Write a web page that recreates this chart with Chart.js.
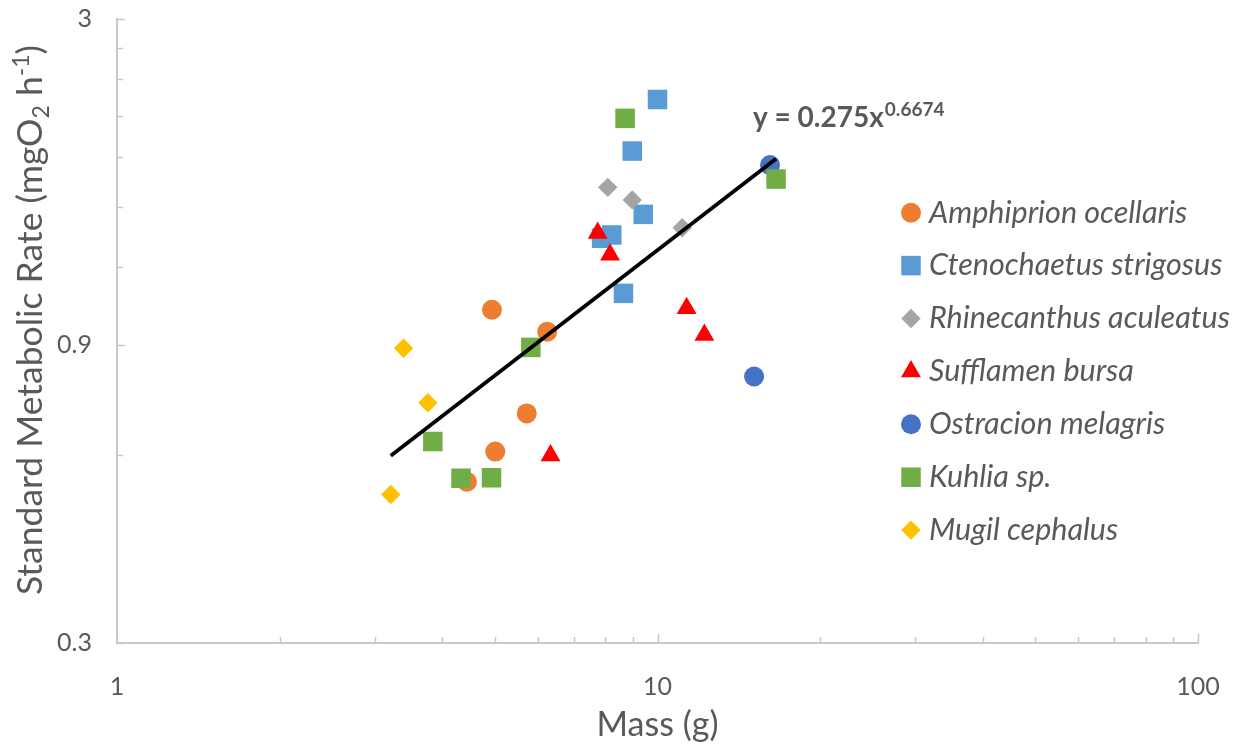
<!DOCTYPE html>
<html>
<head>
<meta charset="utf-8">
<title>Standard metabolic rate vs mass</title>
<script src="https://cdn.jsdelivr.net/npm/chart.js@4"></script>
<style>
  html, body { margin: 0; padding: 0; background: #ffffff; }
  #wrap { width: 1247px; height: 749px; }
</style>
</head>
<body>
<div id="wrap"><canvas id="c" width="1247" height="749"></canvas></div>
<script>
// Body mass (g) and standard metabolic rate (mgO2 h-1) for each species
const amphMass = [4.94, 6.25, 5.73, 5.01, 4.44];
const amphRate = [1.026, 0.946, 0.700, 0.608, 0.544];

const ctenMass = [10.0, 8.98, 9.41, 8.23, 7.88, 8.65];
const ctenRate = [2.229, 1.843, 1.459, 1.352, 1.336, 1.090];

const rhinMass = [8.09, 8.98, 11.11];
const rhinRate = [1.612, 1.539, 1.389];

const suffMass = [7.75, 8.17, 11.32, 12.21, 6.34];
const suffRate = [1.362, 1.257, 1.032, 0.935, 0.599];

const ostrMass = [16.15, 15.09];
const ostrRate = [1.750, 0.802];

const kuhlMass = [8.71, 16.57, 5.83, 3.84, 4.33, 4.93];
const kuhlRate = [2.079, 1.662, 0.893, 0.631, 0.551, 0.552];

const mugiMass = [3.39, 3.76, 3.21];
const mugiRate = [0.890, 0.728, 0.519];

const speciesNames = [
  'Amphiprion ocellaris',
  'Ctenochaetus strigosus',
  'Rhinecanthus aculeatus',
  'Sufflamen bursa',
  'Ostracion melagris',
  'Kuhlia sp.',
  'Mugil cephalus'
];

// Power-law fit y = a * x^b
const fitCoef = 0.275;
const fitExp = 0.6674;

// Axis ticks
const xMajorTicks = [1, 10, 100];
const xTickLabels = ['1', '10', '100'];
const xMinorTicks = [2, 3, 4, 5, 6, 7, 8, 9, 20, 30, 40, 50, 60, 70, 80, 90];
const yMajorTicks = [0.3, 0.9, 3];
const yTickLabels = ['0.3', '0.9', '3'];
const yMinorTicks = [0.6, 1.2, 1.5, 1.8, 2.1, 2.4, 2.7];

const TEXT = '#595959';
const AXIS = '#c9c9c9';
const FONT = 'Lato, "Open Sans", sans-serif';

function pts(xs, ys) { return xs.map((x, i) => ({ x: x, y: ys[i] })); }

const massAll = [].concat(amphMass, ctenMass, rhinMass, suffMass, ostrMass, kuhlMass, mugiMass);
const fitX0 = Math.min.apply(null, massAll);
const fitX1 = Math.max.apply(null, massAll);
const fitLine = [fitX0, fitX1].map(x => ({ x: x, y: fitCoef * Math.pow(x, fitExp) }));

const seriesDefs = [
  { name: speciesNames[0], data: pts(amphMass, amphRate), color: '#ED7D31', style: 'circle', r: 10 },
  { name: speciesNames[1], data: pts(ctenMass, ctenRate), color: '#5B9BD5', style: 'rect', r: 13.8 },
  { name: speciesNames[2], data: pts(rhinMass, rhinRate), color: '#A5A5A5', style: 'rectRot', r: 9.7 },
  { name: speciesNames[3], data: pts(suffMass, suffRate), color: '#FF0000', style: 'triangle', r: 11.5 },
  { name: speciesNames[4], data: pts(ostrMass, ostrRate), color: '#4472C4', style: 'circle', r: 10 },
  { name: speciesNames[5], data: pts(kuhlMass, kuhlRate), color: '#70AD47', style: 'rect', r: 13.8 },
  { name: speciesNames[6], data: pts(mugiMass, mugiRate), color: '#FFC000', style: 'rectRot', r: 9.7 }
];

const datasets = seriesDefs.map((s, i) => ({
  label: s.name,
  data: s.data,
  pointStyle: s.style,
  pointRadius: s.r,
  pointHoverRadius: s.r,
  backgroundColor: s.color,
  borderColor: s.color,
  borderWidth: 0,
  showLine: false,
  order: seriesDefs.length - i + 1
}));

datasets.push({
  label: 'Power fit',
  data: fitLine,
  showLine: true,
  borderColor: '#000000',
  borderWidth: 3.8,
  pointRadius: 0,
  fill: false,
  order: 0,
  hideInLegend: true
});

// Inward tick marks on both axes
const tickMarks = {
  id: 'tickMarks',
  afterDraw(chart) {
    const ctx = chart.ctx;
    const xs = chart.scales.x, ys = chart.scales.y;
    const area = chart.chartArea;
    ctx.save();
    ctx.strokeStyle = AXIS;
    ctx.lineWidth = 1.5;
    ctx.beginPath();
    xMajorTicks.forEach(v => {
      const px = Math.round(xs.getPixelForValue(v)) + 0.5;
      ctx.moveTo(px, area.bottom); ctx.lineTo(px, area.bottom - 9);
    });
    xMinorTicks.forEach(v => {
      const px = Math.round(xs.getPixelForValue(v)) + 0.5;
      ctx.moveTo(px, area.bottom); ctx.lineTo(px, area.bottom - 6);
    });
    yMajorTicks.forEach(v => {
      const py = Math.round(ys.getPixelForValue(v)) + 0.5;
      ctx.moveTo(area.left, py); ctx.lineTo(area.left + 8, py);
    });
    yMinorTicks.forEach(v => {
      const py = Math.round(ys.getPixelForValue(v)) + 0.5;
      ctx.moveTo(area.left, py); ctx.lineTo(area.left + 6, py);
    });
    ctx.stroke();
    ctx.restore();
  }
};

// Axis titles with sub/superscripts, the fit equation and the legend
const annotations = {
  id: 'annotations',
  afterDraw(chart) {
    const ctx = chart.ctx;
    const area = chart.chartArea;
    ctx.save();
    ctx.fillStyle = TEXT;

    // x title
    ctx.font = '34px ' + FONT;
    ctx.textAlign = 'center';
    ctx.textBaseline = 'alphabetic';
    ctx.fillText('Mass (g)', (area.left + area.right) / 2, 736);

    // y title (rotated)
    const parts = [
      { t: 'Standard Metabolic Rate (mgO', size: 35.5, dy: 0 },
      { t: '2', size: 23, dy: 7 },
      { t: ' h', size: 35.5, dy: 0 },
      { t: '-1', size: 23, dy: -13 },
      { t: ')', size: 35.5, dy: 0 }
    ];
    let total = 0;
    parts.forEach(p => { ctx.font = p.size + 'px ' + FONT; p.w = ctx.measureText(p.t).width; total += p.w; });
    ctx.translate(42, 320);
    ctx.rotate(-Math.PI / 2);
    ctx.textAlign = 'left';
    let cx = -total / 2;
    parts.forEach(p => {
      ctx.font = p.size + 'px ' + FONT;
      ctx.fillText(p.t, cx, p.dy);
      cx += p.w;
    });
    ctx.setTransform(1, 0, 0, 1, 0, 0);

    // fit equation
    const eqMain = 'y = ' + fitCoef + 'x';
    const eqPow = String(fitExp);
    ctx.textAlign = 'left';
    ctx.font = 'bold 28px ' + FONT;
    ctx.fillText(eqMain, 753, 127);
    const mw = ctx.measureText(eqMain).width;
    ctx.font = 'bold 19px ' + FONT;
    ctx.fillText(eqPow, 753 + mw + 1, 116);

    // legend
    const rowY0 = 212.7, rowStep = 52.9, markX = 911, textX = 929;
    let row = 0;
    chart.data.datasets.forEach(ds => {
      if (ds.hideInLegend) return;
      const y = rowY0 + row * rowStep;
      ctx.fillStyle = ds.backgroundColor;
      ctx.strokeStyle = ds.borderColor;
      Chart.helpers.drawPoint(ctx, {
        pointStyle: ds.pointStyle,
        radius: ds.pointRadius,
        borderWidth: 0,
        rotation: 0
      }, markX, y);
      ctx.fillStyle = TEXT;
      ctx.font = 'italic 30.5px ' + FONT;
      ctx.textBaseline = 'middle';
      ctx.fillText(ds.label, textX, y);
      ctx.textBaseline = 'alphabetic';
      row++;
    });
    ctx.restore();
  }
};

new Chart(document.getElementById('c'), {
  type: 'scatter',
  data: { datasets: datasets },
  options: {
    responsive: false,
    animation: false,
    layout: { padding: { top: 19, right: 49, left: 0, bottom: 0 } },
    plugins: {
      legend: { display: false },
      tooltip: { enabled: false }
    },
    scales: {
      x: {
        type: 'logarithmic',
        position: 'bottom',
        min: 1,
        max: 100,
        grid: { display: false, drawTicks: false },
        border: { display: true, color: AXIS, width: 2 },
        afterBuildTicks(scale) { scale.ticks = xMajorTicks.map(v => ({ value: v })); },
        afterFit(scale) {
          scale.height = 106;
          scale.paddingLeft = 0; scale.paddingRight = 0;
        },
        ticks: {
          padding: 29,
          color: TEXT,
          font: { family: FONT, size: 25 },
          maxRotation: 0,
          autoSkip: false,
          callback: (v, i) => xTickLabels[i]
        }
      },
      y: {
        type: 'logarithmic',
        position: 'left',
        min: 0.3,
        max: 3,
        grid: { display: false, drawTicks: false },
        border: { display: true, color: AXIS, width: 2 },
        afterBuildTicks(scale) { scale.ticks = yMajorTicks.map(v => ({ value: v })); },
        afterFit(scale) {
          scale.width = 117;
          scale.paddingTop = 0; scale.paddingBottom = 0;
        },
        ticks: {
          padding: 25,
          color: TEXT,
          font: { family: FONT, size: 25 },
          autoSkip: false,
          callback: (v, i) => yTickLabels[i]
        }
      }
    }
  },
  plugins: [tickMarks, annotations]
});
</script>
</body>
</html>
